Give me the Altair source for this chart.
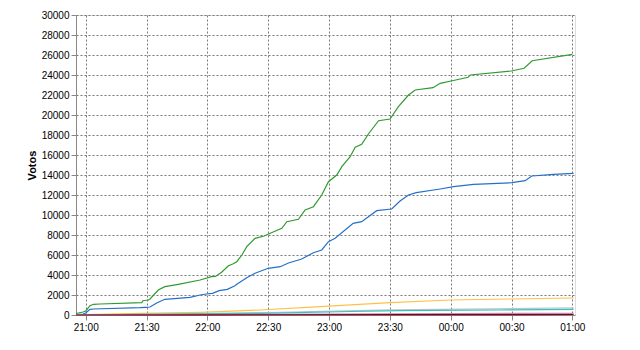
import altair as alt
import pandas as pd
from datetime import datetime, timedelta

BASE = datetime(2011, 5, 22, 21, 0)

# minutes after 21:00 and vote counts
green_min = [-4.8, -1.3, 0, 2.1, 3.8, 7, 27.6, 28.2, 30.9, 31.7, 35.8, 39, 45.7, 56.4, 62, 64, 67, 70.4, 72.5,
             74.5, 77, 79.4, 83.5, 88, 91, 96.7, 99.2, 104.9, 108.2, 112.3, 116.4, 119.7, 123.8, 126.3, 130.4,
             132.9, 136.1, 139.4, 144.4, 150.1, 154.2, 159.2, 162.5, 171.3, 174.8, 180.2, 188.6, 189.6, 209.8,
             216.2, 220.2, 240]
green_val = [150, 300, 400, 930, 1070, 1100, 1230, 1430, 1500, 1600, 2500, 2830, 3070, 3500, 3830, 3850, 4270,
             4930, 5100, 5330, 6000, 6830, 7670, 7900, 8170, 8670, 9330, 9570, 10500, 10830, 12000, 13330, 14000,
             14830, 15830, 16770, 17070, 18100, 19430, 19600, 20830, 22000, 22500, 22730, 23170, 23400, 23770,
             24000, 24400, 24670, 25430, 26070]

blue_min = [-4.8, -1.3, 0, 2.1, 3.8, 26.8, 29.5, 31.7, 35, 39, 51.4, 56.4, 59.5, 62.5, 65.8, 69.8, 73.6, 74.5,
            79.4, 83.5, 90, 95.9, 100, 106.5, 112.3, 116.4, 119.7, 123, 131.9, 136.1, 143.5, 150.9, 155, 159.2,
            163, 174.8, 181.4, 191.3, 210.2, 216.7, 220, 230.7, 240.6]
blue_val = [50, 100, 200, 570, 600, 730, 770, 800, 1200, 1570, 1770, 2000, 2100, 2170, 2430, 2570, 2930, 3070,
            3730, 4170, 4670, 4830, 5200, 5600, 6230, 6500, 7330, 7670, 9170, 9330, 10430, 10600, 11400, 12000,
            12230, 12600, 12830, 13070, 13230, 13430, 13900, 14070, 14170]

orange_min = [-4.8, 0, 26.8, 56.4, 86, 115.6, 135, 150, 179.7, 209, 240.6]
orange_val = [0, 30, 170, 270, 500, 830, 1070, 1230, 1500, 1600, 1700]

gray_min = [-4.8, 30, 90, 150, 200, 240.6]
gray_val = [0, 60, 250, 520, 620, 720]

cyan_min = [-4.8, 26.8, 86, 130.5, 155, 204, 240.6]
cyan_val = [0, 70, 170, 350, 430, 500, 570]

pink_min = [-4.8, 60, 120, 180, 240.6]
pink_val = [0, 40, 90, 140, 170]

red_min = [-4.8, 60, 150, 240.6]
red_val = [0, 20, 40, 50]

series = [
    ("Verde", green_min, green_val, "#2f9a2f"),
    ("Azul", blue_min, blue_val, "#2470c8"),
    ("Naranja", orange_min, orange_val, "#ffc04a"),
    ("Gris", gray_min, gray_val, "#c4c4c4"),
    ("Cian", cyan_min, cyan_val, "#30c4c4"),
    ("Rosa", pink_min, pink_val, "#cc88aa"),
    ("Granate", red_min, red_val, "#800020"),
]

rows = []
for name, mins, vals, _ in series:
    for m, v in zip(mins, vals):
        t = BASE + timedelta(minutes=m)
        rows.append({"serie": name, "hora": t.strftime("%Y-%m-%dT%H:%M:%S"), "votos": v})
df = pd.DataFrame(rows)

tick_dt = [alt.DateTime(year=2011, month=5, date=22 + (1 if (21 * 60 + 30 * i) >= 1440 else 0),
                        hours=((21 * 60 + 30 * i) // 60) % 24, minutes=(30 * i) % 60) for i in range(9)]

x_domain = [alt.DateTime(year=2011, month=5, date=22, hours=20, minutes=55, seconds=12),
            alt.DateTime(year=2011, month=5, date=23, hours=1, minutes=1, seconds=18)]

chart = alt.Chart(df).mark_line(strokeWidth=1.2, interpolate="linear").encode(
    x=alt.X("hora:T", title=None,
            scale=alt.Scale(domain=x_domain, nice=False),
            axis=alt.Axis(values=tick_dt, format="%H:%M", labelFlush=False, grid=True,
                          gridColor="#777777", gridDash=[2, 2], gridOpacity=1)),
    y=alt.Y("votos:Q", title="Votos",
            scale=alt.Scale(domain=[0, 30000], nice=False),
            axis=alt.Axis(values=list(range(0, 30001, 2000)), format="d", grid=True,
                          gridColor="#777777", gridDash=[2, 2], gridOpacity=1)),
    color=alt.Color("serie:N", legend=None,
                    scale=alt.Scale(domain=[s[0] for s in series], range=[s[3] for s in series])),
    order=alt.Order("hora:T"),
).properties(
    width=499, height=300,
    autosize=alt.AutoSizeParams(type="none"),
    padding={"left": 76, "top": 15, "right": 65, "bottom": 35},
).configure_axis(
    labelFont="Liberation Sans", labelFontSize=11, labelColor="#000000",
    domainColor="#000000", domainWidth=1, tickColor="#000000", tickSize=5, labelPadding=2,
    titleFont="Liberation Sans", titleFontSize=11, titleFontWeight="bold", titleColor="#000000",
).configure_axisX(labelPadding=3).configure_axisY(titlePadding=4).configure_view(
    stroke="#777777", strokeDash=[2, 2]
).configure(background="white")

chart.save("out.html", embed_options={"renderer": "svg", "actions": False})
